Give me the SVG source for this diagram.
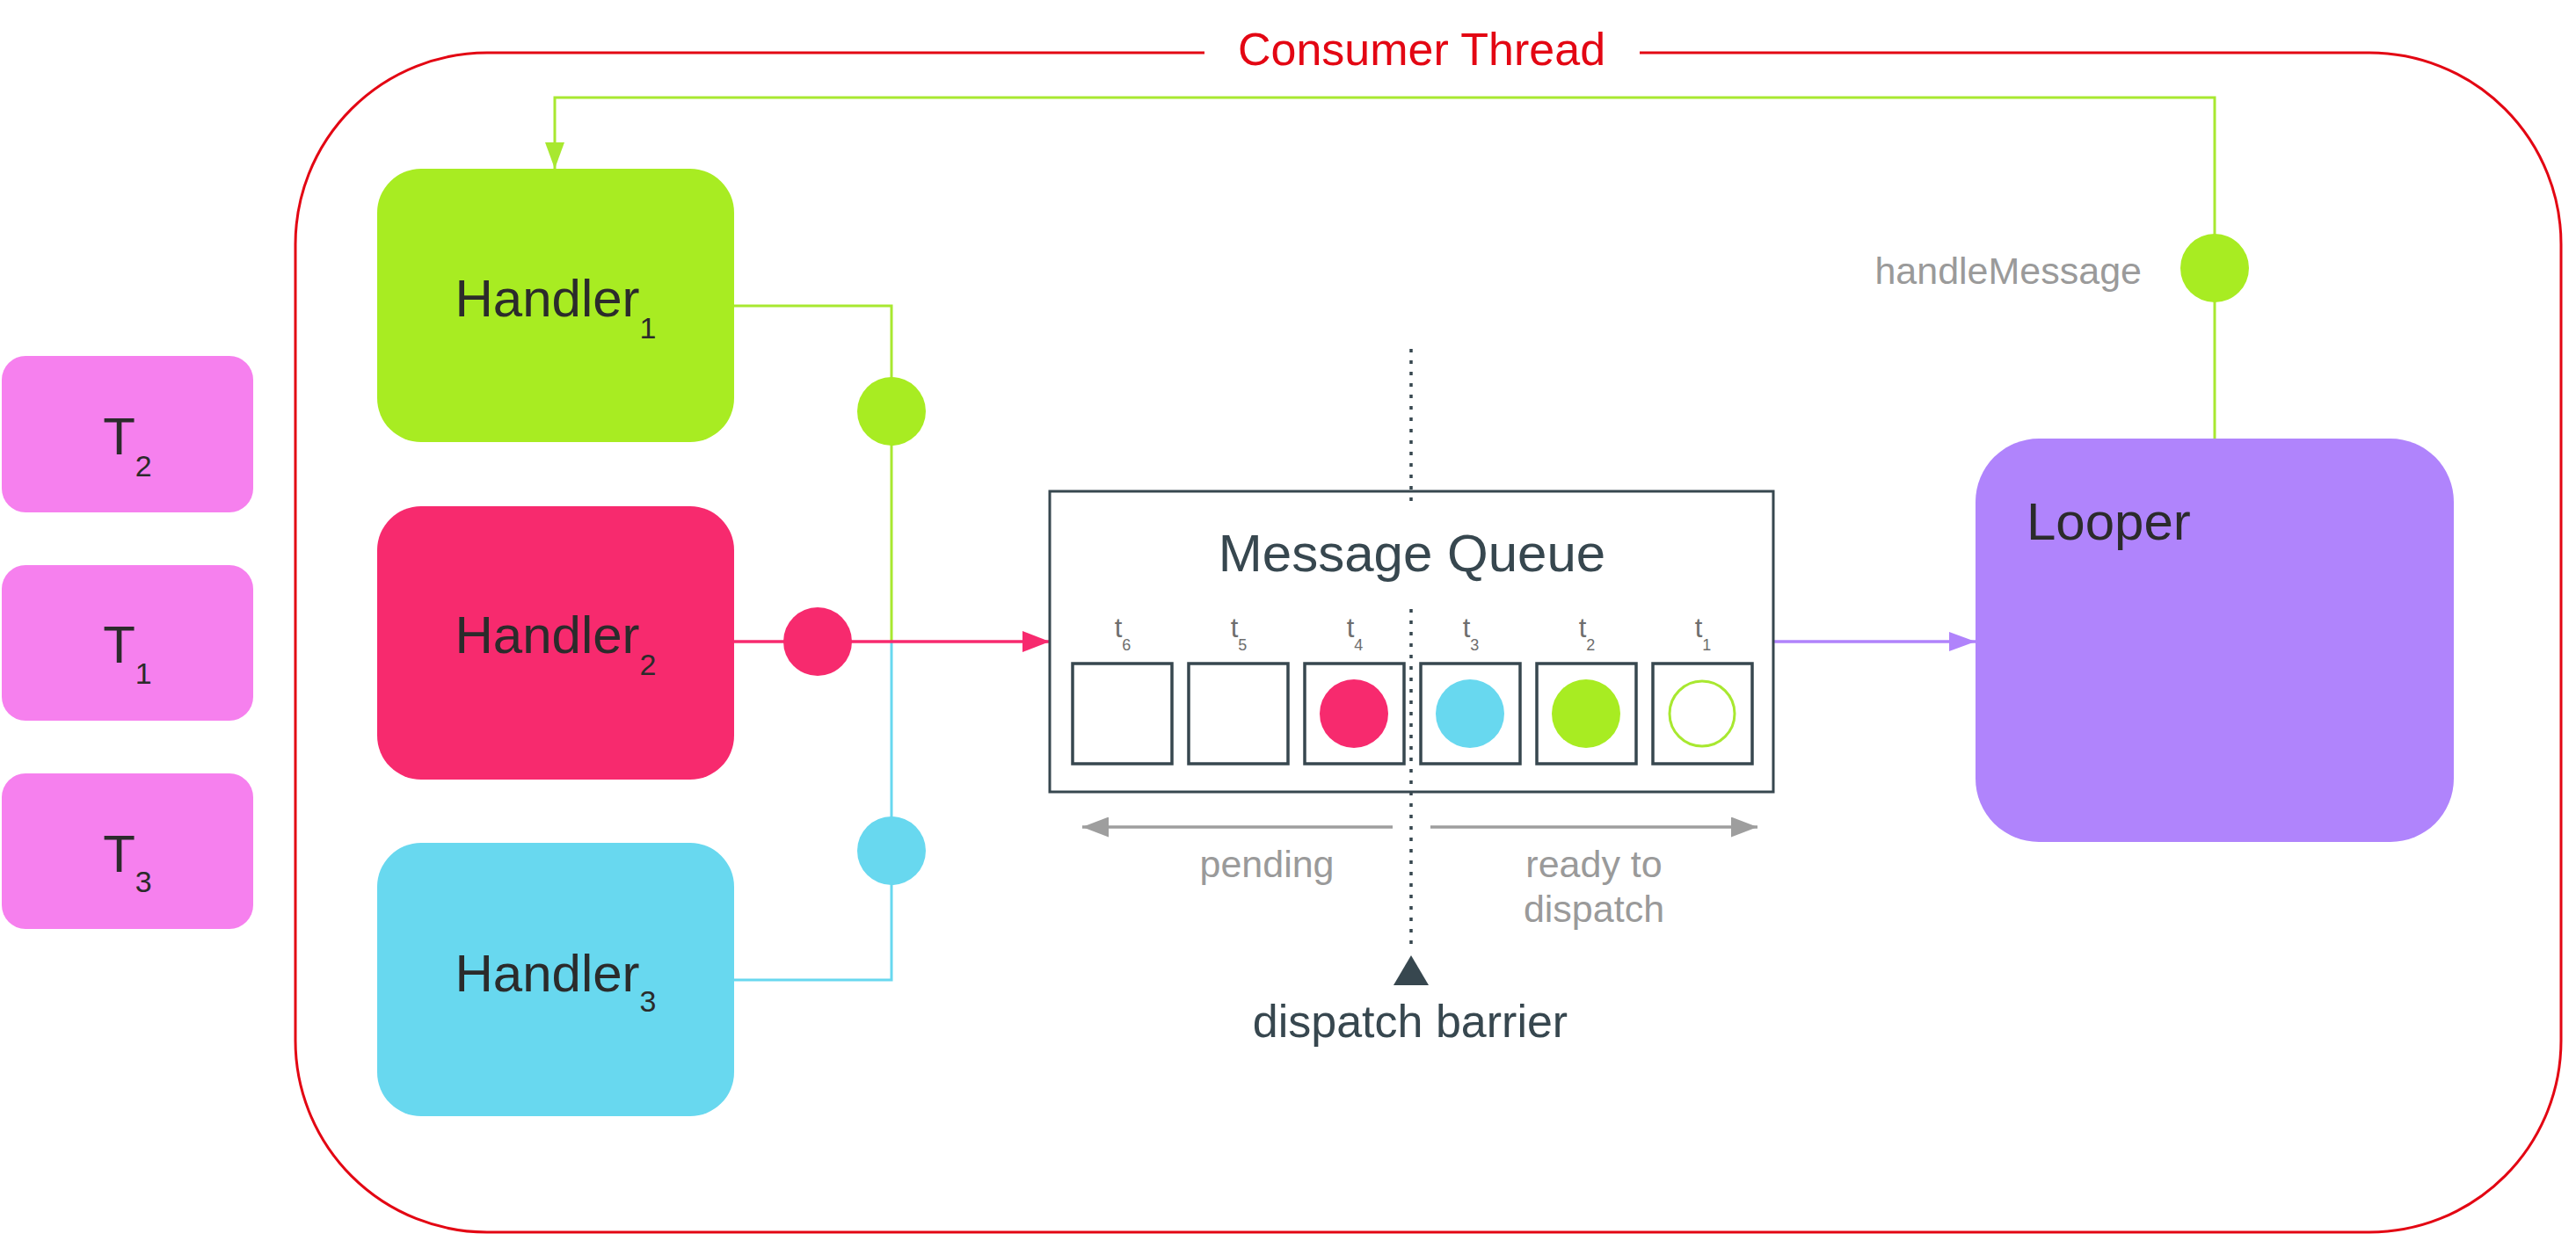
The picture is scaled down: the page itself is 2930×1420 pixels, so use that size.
<svg xmlns="http://www.w3.org/2000/svg" width="2930" height="1420" viewBox="0 0 2930 1420">
<style>
text{font-family:"Liberation Sans",Arial,sans-serif}
.lbl{font-size:60px;fill:#2b2b2b;text-anchor:middle}
.sub{font-size:34px}
.gray{font-size:43px;fill:#9a9a9a}
.tl{font-size:31px;fill:#6e6e6e;text-anchor:middle}
.ts{font-size:18px}
.slot{fill:#fff;stroke:#37474f;stroke-width:3.5}
.g{stroke:#a8e830;stroke-width:3;fill:none}
.dot{stroke:#37474f;stroke-width:3.5;stroke-dasharray:4 9;fill:none}
</style>
<defs>
<marker id="aG" markerUnits="userSpaceOnUse" markerWidth="30" markerHeight="22" refX="30" refY="11" orient="auto"><path d="M0,0L30,11L0,22z" fill="#a8e830"/></marker>
<marker id="aR" markerUnits="userSpaceOnUse" markerWidth="31" markerHeight="24" refX="31" refY="12" orient="auto"><path d="M0,0L31,12L0,24z" fill="#f72a6e"/></marker>
<marker id="aP" markerUnits="userSpaceOnUse" markerWidth="30" markerHeight="22" refX="30" refY="11" orient="auto"><path d="M0,0L30,11L0,22z" fill="#b083fb"/></marker>
<marker id="aY" markerUnits="userSpaceOnUse" markerWidth="30" markerHeight="23" refX="30" refY="11.5" orient="auto"><path d="M0,0L30,11.5L0,23z" fill="#9e9e9e"/></marker>
</defs>

<g id="consumer-thread">
<path d="M1370,60H554A218,218 0 0 0 336,278V1184A218,218 0 0 0 554,1402H2695A218,218 0 0 0 2913,1184V278A218,218 0 0 0 2695,60H1865" fill="none" stroke="#e30613" stroke-width="3"/>
<text x="1617" y="74" font-size="52" fill="#e30613" text-anchor="middle">Consumer Thread</text>
</g>

<g id="connectors">
<path class="g" d="M2519,499V111H631V192" marker-end="url(#aG)"/>
<path class="g" d="M835,348H1014V730"/>
<path d="M1014,730V1115H835" fill="none" stroke="#68d8ef" stroke-width="3"/>
<path d="M835,730H1194" fill="none" stroke="#f72a6e" stroke-width="3.5" marker-end="url(#aR)"/>
<path d="M2017,730H2247" fill="none" stroke="#b083fb" stroke-width="3.5" marker-end="url(#aP)"/>
<path d="M1584,941H1231" fill="none" stroke="#9e9e9e" stroke-width="3.5" marker-end="url(#aY)"/>
<path d="M1627,941H1999" fill="none" stroke="#9e9e9e" stroke-width="3.5" marker-end="url(#aY)"/>
<circle cx="1014" cy="468" r="39" fill="#a8ec22"/>
<circle cx="930" cy="730" r="39" fill="#f72a6e"/>
<circle cx="1014" cy="968" r="39" fill="#68d8ef"/>
<circle cx="2519" cy="305" r="39" fill="#a8ec22"/>
<text class="gray" x="2436" y="323" text-anchor="end">handleMessage</text>
</g>

<g id="T2"><rect x="2" y="405" width="286" height="178" rx="27" fill="#f680ee"/><text class="lbl" x="145" y="517" font-size="61">T<tspan class="sub" dy="25">2</tspan></text></g>
<g id="T1"><rect x="2" y="643" width="286" height="177" rx="27" fill="#f680ee"/><text class="lbl" x="145" y="754" font-size="61">T<tspan class="sub" dy="24">1</tspan></text></g>
<g id="T3"><rect x="2" y="880" width="286" height="177" rx="27" fill="#f680ee"/><text class="lbl" x="145" y="992" font-size="61">T<tspan class="sub" dy="23">3</tspan></text></g>

<g id="handler1"><rect x="429" y="192" width="406" height="311" rx="50" fill="#a8ec22"/><text class="lbl" x="632" y="360">Handler<tspan class="sub" dy="25">1</tspan></text></g>
<g id="handler2"><rect x="429" y="576" width="406" height="311" rx="50" fill="#f72a6e"/><text class="lbl" x="632" y="743">Handler<tspan class="sub" dy="25">2</tspan></text></g>
<g id="handler3"><rect x="429" y="959" width="406" height="311" rx="50" fill="#68d8ef"/><text class="lbl" x="632" y="1128">Handler<tspan class="sub" dy="23">3</tspan></text></g>

<g id="message-queue">
<rect x="1194" y="559" width="823" height="342" fill="#fff" stroke="#37474f" stroke-width="3"/>
<text x="1606" y="650" font-size="60" fill="#37474f" text-anchor="middle">Message Queue</text>
<rect class="slot" x="1220" y="755" width="113" height="114"/>
<rect class="slot" x="1352" y="755" width="113" height="114"/>
<rect class="slot" x="1484" y="755" width="113" height="114"/>
<rect class="slot" x="1616" y="755" width="113" height="114"/>
<rect class="slot" x="1748" y="755" width="113" height="114"/>
<rect class="slot" x="1880" y="755" width="113" height="114"/>
<circle cx="1540" cy="812" r="39" fill="#f72a6e"/>
<circle cx="1672" cy="812" r="39" fill="#68d8ef"/>
<circle cx="1804" cy="812" r="39" fill="#a8ec22"/>
<circle cx="1936" cy="812" r="37" fill="none" stroke="#a8e830" stroke-width="3"/>
<text class="tl" x="1277" y="725">t<tspan class="ts" dy="15">6</tspan></text>
<text class="tl" x="1409" y="725">t<tspan class="ts" dy="15">5</tspan></text>
<text class="tl" x="1541" y="725">t<tspan class="ts" dy="15">4</tspan></text>
<text class="tl" x="1673" y="725">t<tspan class="ts" dy="15">3</tspan></text>
<text class="tl" x="1805" y="725">t<tspan class="ts" dy="15">2</tspan></text>
<text class="tl" x="1937" y="725">t<tspan class="ts" dy="15">1</tspan></text>
</g>

<g id="barrier">
<path class="dot" d="M1605,397V570M1605,693V1080"/>
<path d="M1605,1087L1625,1121H1585z" fill="#37474f"/>
<text x="1604" y="1180" font-size="52" fill="#37474f" text-anchor="middle">dispatch barrier</text>
<text class="gray" x="1441" y="998" text-anchor="middle">pending</text>
<text class="gray" x="1813" y="998" text-anchor="middle">ready to</text>
<text class="gray" x="1813" y="1049" text-anchor="middle">dispatch</text>
</g>

<g id="looper"><rect x="2247" y="499" width="544" height="459" rx="72" fill="#b084fc"/><text x="2305" y="614" font-size="60" fill="#2b2b2b">Looper</text></g>
</svg>
